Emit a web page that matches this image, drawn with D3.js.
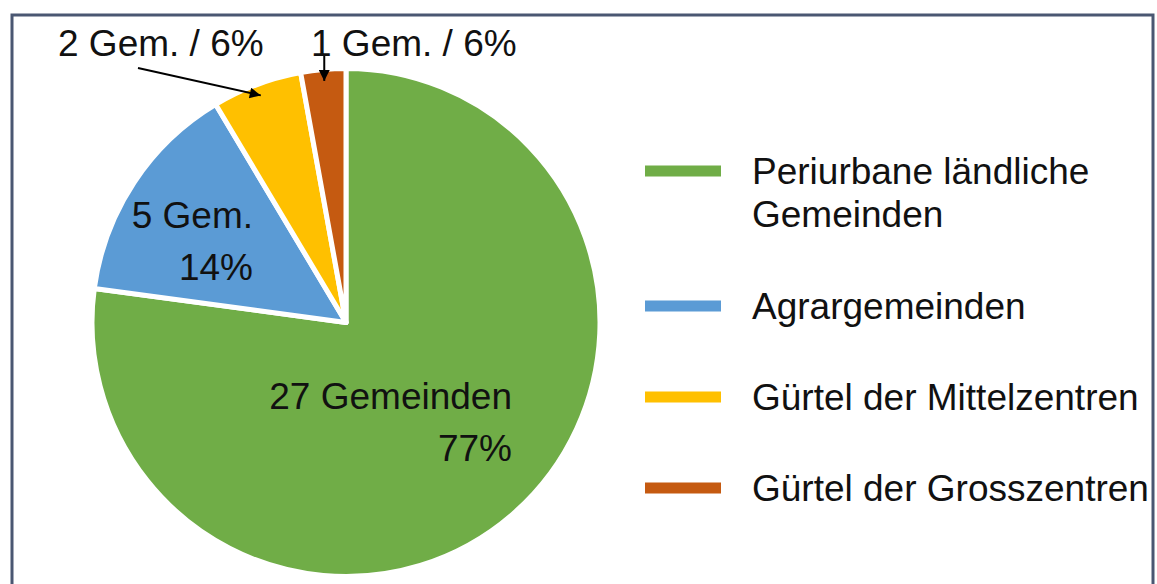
<!DOCTYPE html>
<html>
<head>
<meta charset="utf-8">
<script src="https://cdn.jsdelivr.net/npm/d3@7"></script>
<style>
  html, body { margin: 0; padding: 0; background: #ffffff; }
  svg text { font-family: "Liberation Sans", Arial, sans-serif; fill: #111111; }
</style>
</head>
<body>
<div id="chart"></div>
<script>
// ===============Data
var categories = ["Periurbane ländliche Gemeinden", "Agrargemeinden", "Gürtel der Mittelzentren", "Gürtel der Grosszentren"];
var counts = [27, 5, 2, 1];
var legendLines = [["Periurbane ländliche", "Gemeinden"], ["Agrargemeinden"], ["Gürtel der Mittelzentren"], ["Gürtel der Grosszentren"]];
var sliceLabels = [["27 Gemeinden", "77%"], ["5 Gem.", "14%"], ["2 Gem. / 6%"], ["1 Gem. / 6%"]];

// ===========Set Height, Width
var svgWidth = 1157;
var svgHeight = 584;
var fontSize = 37;

var svg = d3.select("#chart").append("svg")
    .attr("width", svgWidth)
    .attr("height", svgHeight);

// ===========Frame around the chart
svg.append("rect")
    .attr("x", 12)
    .attr("y", 15)
    .attr("width", 1141)
    .attr("height", 620)
    .attr("fill", "none")
    .attr("stroke", "#4a5772")
    .attr("stroke-width", 3);

var color = d3.scaleOrdinal()
    .domain(categories)
    .range(["#70ad47", "#5b9bd5", "#ffc000", "#c55a11"]);

// ===========Pie
var cx = 346, cy = 322.5, radius = 254;

var pie = d3.pie()
    .sort(null)
    .value(d => d.value);

var pieData = pie(categories.map((c, i) => ({ name: c, value: counts[i] })));

var arc = d3.arc()
    .innerRadius(0)
    .outerRadius(radius);

var pieGroup = svg.append("g")
    .attr("transform", `translate(${cx}, ${cy})`);

pieGroup.selectAll("path")
    .data(pieData)
    .enter()
    .append("path")
    .attr("d", arc)
    .attr("fill", d => color(d.data.name))
    .attr("stroke", "#ffffff")
    .attr("stroke-width", 5)
    .attr("stroke-linejoin", "round");

// ===========Labels inside slices (right aligned, two lines)
var insideOffsets = [{ x: 166, y: 86 }, { x: -93, y: -95 }];
var lineGap = 52;
insideOffsets.forEach(function(o, i) {
    var t = pieGroup.append("text")
        .attr("text-anchor", "end")
        .attr("font-size", fontSize + "px");
    sliceLabels[i].forEach(function(line, j) {
        t.append("tspan")
            .attr("x", o.x)
            .attr("y", o.y + j * lineGap)
            .text(line);
    });
});

// ===========Outside labels with arrows
svg.append("defs").append("marker")
    .attr("id", "arrowHead")
    .attr("viewBox", "0 0 10 10")
    .attr("refX", 10)
    .attr("refY", 5)
    .attr("markerWidth", 22)
    .attr("markerHeight", 11)
    .attr("markerUnits", "userSpaceOnUse")
    .attr("orient", "auto")
    .append("path")
    .attr("d", "M0,0 L10,5 L0,10 Z")
    .attr("fill", "#000000");

// arrow tip sits near the rim, on the middle angle of the slice
function tipPoint(d) {
    var a = (d.startAngle + d.endAngle) / 2;
    return [Math.sin(a) * radius * 0.955, -Math.cos(a) * radius * 0.955];
}

// yellow slice label
var tipY = tipPoint(pieData[2]);
svg.append("text")
    .attr("x", 58)
    .attr("y", 56)
    .attr("font-size", fontSize + "px")
    .text(sliceLabels[2][0]);
svg.append("line")
    .attr("x1", 138)
    .attr("y1", 68)
    .attr("x2", cx + tipY[0])
    .attr("y2", cy + tipY[1])
    .attr("stroke", "#000000")
    .attr("stroke-width", 2)
    .attr("marker-end", "url(#arrowHead)");

// orange slice label
var tipO = tipPoint(pieData[3]);
svg.append("text")
    .attr("x", 311)
    .attr("y", 56)
    .attr("font-size", fontSize + "px")
    .text(sliceLabels[3][0]);
svg.append("line")
    .attr("x1", cx + tipO[0])
    .attr("y1", 56)
    .attr("x2", cx + tipO[0])
    .attr("y2", cy + tipO[1])
    .attr("stroke", "#000000")
    .attr("stroke-width", 2)
    .attr("marker-end", "url(#arrowHead)");

// ===========Legend
var legendX = 645, textX = 752;
var rowY = [];
var yPos = 171;
legendLines.forEach(function(lines) {
    rowY.push(yPos);
    yPos += lines.length * 44 + 47;
});

var legend = svg.selectAll("g.legend")
    .data(categories)
    .enter()
    .append("g")
    .attr("class", "legend")
    .attr("transform", (d, i) => `translate(0, ${rowY[i]})`);

legend.append("rect")
    .attr("x", legendX)
    .attr("y", -5.5)
    .attr("width", 76)
    .attr("height", 11)
    .attr("fill", d => color(d));

legend.each(function(d, i) {
    var t = d3.select(this).append("text")
        .attr("font-size", fontSize + "px");
    legendLines[i].forEach(function(line, j) {
        t.append("tspan")
            .attr("x", textX)
            .attr("y", 13 + j * 43)
            .text(line);
    });
});
</script>
</body>
</html>
